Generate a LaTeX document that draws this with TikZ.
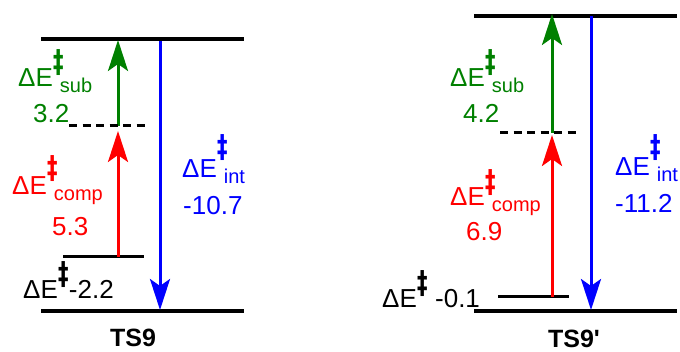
\documentclass[tikz,border=0pt]{standalone}
\usepackage{fontspec}
\setmainfont{Liberation Sans}
\newfontfamily\dagfont{DejaVu Sans}
\usetikzlibrary{arrows.meta, positioning}

\font\tsbold="Liberation Sans Bold" at 25pt
\newcommand{\mainsize}{\fontsize{26}{30}\selectfont}
\newcommand{\subsize}{\fontsize{20}{24}\selectfont}
\newcommand{\dagsize}{\dagfont\fontsize{21}{24}\selectfont\bfseries}
\newcommand{\dbldag}{\scalebox{1}[1.5]{\dagsize ‡}}
% Delta E with double dagger and subscript
\newcommand{\dEsub}[2][14pt]{ΔE\makebox[0pt][l]{\kern0.5pt\raisebox{#1}{\dbldag}}\kern7pt\raisebox{-6pt}{\subsize #2}}
\newcommand{\dEdag}{ΔE\kern0.5pt\raisebox{14pt}{\dbldag}}

\begin{document}
\begin{tikzpicture}[
    x=1pt, y=-1pt,
    level/.style={line width=3.2pt},
    minor/.style={line width=3pt},
    halflevel/.style={minor, dash pattern=on 8pt off 5.5pt},
    lbl/.style={anchor=base west, inner sep=0pt, font=\mainsize},
    tslabel/.style={anchor=base, inner sep=0pt, font=\tsbold},
    arrowbase/.style={line width=3pt, -{Stealth[length=31pt, width=20pt, inset=7pt]}},
    subarrow/.style={arrowbase, draw=green!50!black},
    comparrow/.style={arrowbase, draw=red},
    intarrow/.style={arrowbase, draw=blue}
]
\useasboundingbox (0,0) rectangle (680,352);

% Left panel: TS9
\coordinate (A-top-l) at (41,39);
\coordinate (A-top-r) at (244,39);
\coordinate (A-bot-l) at (41,311);
\coordinate (A-bot-r) at (244,311);
\coordinate (A-dash-l) at (69,126);
\coordinate (A-dash-r) at (145,126);
\coordinate (A-cx-l) at (63,257);
\coordinate (A-cx-r) at (144,257);
\coordinate (A-sub-s) at (118,126);
\coordinate (A-sub-e) at (118,40);
\coordinate (A-comp-s) at (118,257);
\coordinate (A-comp-e) at (118,131);
\coordinate (A-int-s) at (160,41);
\coordinate (A-int-e) at (160,310);

\draw[level] (A-top-l) -- (A-top-r);
\draw[level] (A-bot-l) -- (A-bot-r);
\draw[minor] (A-cx-l) -- (A-cx-r);
\draw[subarrow] (A-sub-s) -- (A-sub-e);
\draw[comparrow] (A-comp-s) -- (A-comp-e);
\draw[intarrow] (A-int-s) -- (A-int-e);
\draw[halflevel] (A-dash-l) -- (A-dash-r);

\node[lbl, text=green!50!black] (A-sub) at (18,87) {\dEsub{sub}};
\node[lbl, text=green!50!black] (A-subval) at (33,123) {3.2};
\node[lbl, text=red] (A-comp) at (12,195) {\dEsub[16pt]{comp}};
\node[lbl, text=red] (A-compval) at (52,236) {5.3};
\node[lbl, text=blue] (A-int) at (182,178) {\dEsub[20pt]{int}};
\node[lbl, text=blue] (A-intval) at (183,215) {-10.7};
\node[lbl] (A-cx) at (23,299) {\dEdag-2.2};
\node[tslabel] (A-ts) at (133,347) {TS9};

% Right panel: TS9'
\coordinate (B-top-l) at (474,16);
\coordinate (B-top-r) at (677,16);
\coordinate (B-bot-l) at (474,311);
\coordinate (B-bot-r) at (677,311);
\coordinate (B-dash-l) at (500,133);
\coordinate (B-dash-r) at (577,133);
\coordinate (B-cx-l) at (498,297);
\coordinate (B-cx-r) at (569,297);
\coordinate (B-sub-s) at (552,133);
\coordinate (B-sub-e) at (552,14);
\coordinate (B-comp-s) at (552,297);
\coordinate (B-comp-e) at (552,135);
\coordinate (B-int-s) at (591,16);
\coordinate (B-int-e) at (591,310);

\draw[level] (B-top-l) -- (B-top-r);
\draw[level] (B-bot-l) -- (B-bot-r);
\draw[minor] (B-cx-l) -- (B-cx-r);
\draw[subarrow] (B-sub-s) -- (B-sub-e);
\draw[comparrow] (B-comp-s) -- (B-comp-e);
\draw[intarrow] (B-int-s) -- (B-int-e);
\draw[halflevel] (B-dash-l) -- (B-dash-r);

\node[lbl, text=green!50!black] (B-sub) at (450,87) {\dEsub{sub}};
\node[lbl, text=green!50!black] (B-subval) at (463,123) {4.2};
\node[lbl, text=red] (B-comp) at (450,206) {\dEsub[13pt]{comp}};
\node[lbl, text=red] (B-compval) at (466,241) {6.9};
\node[lbl, text=blue] (B-int) at (615,176) {\dEsub[18pt]{int}};
\node[lbl, text=blue] (B-intval) at (615,213) {-11.2};
\node[lbl] (B-cx) at (382,308) {\dEdag\ -0.1};
\node[tslabel] (B-ts) at (574,348) {TS9'};

\end{tikzpicture}
\end{document}
